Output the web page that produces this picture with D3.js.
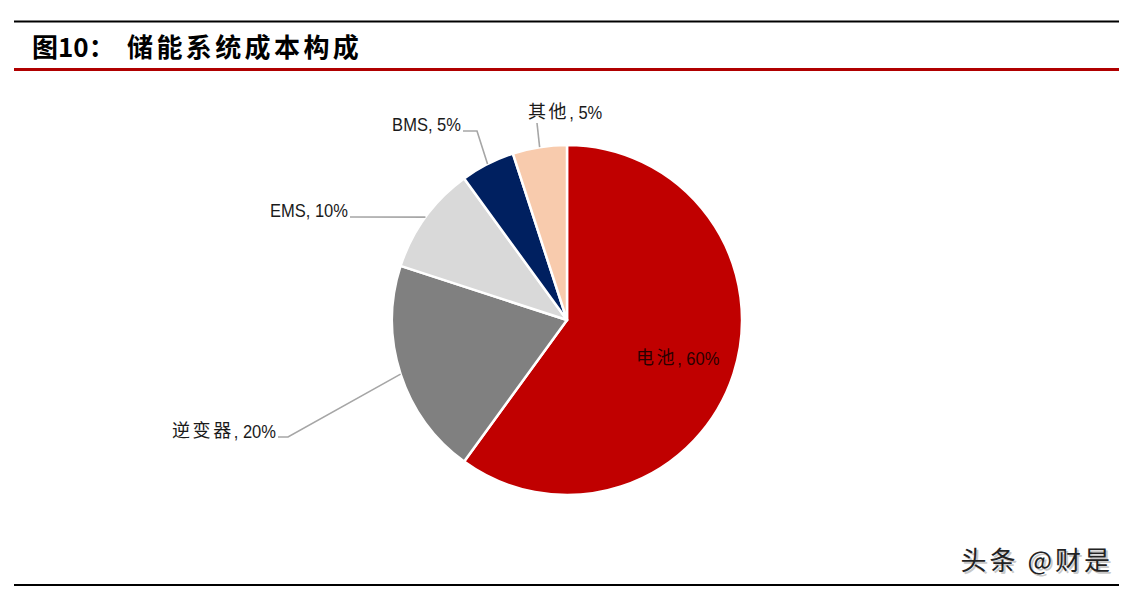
<!DOCTYPE html>
<html><head><meta charset="utf-8">
<script src="https://cdn.jsdelivr.net/npm/d3@7"></script>
<style>html,body{margin:0;padding:0;background:#fff;}</style>
</head><body>
<svg id="c" width="1131" height="593"></svg>
<script>
const categories = ["电池", "逆变器", "EMS", "BMS", "其他"];
const values = [60, 20, 10, 5, 5];
const colors = ["#C00000", "#808080", "#D9D9D9", "#002060", "#F8CBAD"];
const percentText = ["60%", "20%", "10%", "5%", "5%"];

const svg = d3.select("#c");

// frame lines
svg.append("line").attr("x1",14).attr("x2",1119).attr("y1",21.5).attr("y2",21.5).attr("stroke","#000").attr("stroke-width",2);
svg.append("line").attr("x1",14).attr("x2",1119).attr("y1",69.5).attr("y2",69.5).attr("stroke","#B00000").attr("stroke-width",3);
svg.append("line").attr("x1",14).attr("x2",1119).attr("y1",585).attr("y2",585).attr("stroke","#000").attr("stroke-width",2);

// title
const tf = "'Noto Sans CJK SC','Liberation Sans',sans-serif";
svg.append("text").attr("x",32).attr("y",57).attr("font-family",tf).attr("font-weight","bold")
  .attr("font-size",26).attr("fill","#000").text("图10：");
svg.append("text").attr("x",127).attr("y",57).attr("font-family",tf).attr("font-weight","bold")
  .attr("font-size",26).attr("letter-spacing","3.4px").attr("fill","#000").text("储能系统成本构成");

// pie
const cx = 567, cy = 320, r = 175;
const g = svg.append("g").attr("transform",`translate(${cx},${cy})`);
const data = categories.map((c,i)=>({cat:c, value:values[i], color:colors[i], pct:percentText[i]}));
const pie = d3.pie().value(d=>d.value).sort(null);
const arcs = pie(data);
const arc = d3.arc().innerRadius(0).outerRadius(r);
g.selectAll("path.s").data(arcs).join("path").attr("class","s")
  .attr("d",arc).attr("fill",d=>d.data.color).attr("stroke","#fff").attr("stroke-width",2.5).attr("stroke-linejoin","round");

const lf = "'Liberation Sans Narrow','Arial Narrow','Liberation Sans',sans-serif";
const cf = "'Noto Sans CJK SC',sans-serif";
const SX = 0.87, LFS = 19;
const isCJK = s => /[\u4e00-\u9fff]/.test(s);
function edge(d, rr){ const a=(d.startAngle+d.endAngle)/2; return [Math.sin(a)*rr, -Math.cos(a)*rr]; }
function label(tx, ty, anchor, cat, pct, fill){
  const lg = g.append("g");
  const first = lg.append("text").attr("x",0).attr("y",0).attr("dy","0.35em").attr("fill",fill).text(cat);
  if (isCJK(cat)) first.attr("font-family",cf).attr("font-size",18).attr("letter-spacing","2.6px");
  else first.attr("font-family",lf).attr("font-size",LFS).attr("transform",`scale(${SX},1)`);
  const w1 = first.node().getComputedTextLength() * (isCJK(cat)?1:SX);
  const second = lg.append("text").attr("transform",`translate(${w1},0) scale(${SX},1)`).attr("dy","0.35em")
    .attr("font-family",lf).attr("font-size",LFS).attr("fill",fill).text(", " + pct);
  const w = w1 + second.node().getComputedTextLength()*SX;
  const ox = anchor==="end" ? -w : anchor==="middle" ? -w/2 : 0;
  lg.attr("transform",`translate(${tx+ox},${ty})`);
}
// 电池 inside
{
  const d = arcs[0];
  const p = edge(d, r*0.665);
  label(p[0], p[1]+2, "middle", d.data.cat, d.data.pct, "#2a0000");
}
const lineColor = "#A6A6A6";
function leader(d, pts, tx, ty, anchor){
  const e = edge(d, r);
  g.append("path").attr("d", d3.line()([e, ...pts])).attr("fill","none").attr("stroke",lineColor).attr("stroke-width",1.6);
  label(tx, ty, anchor, d.data.cat, d.data.pct, "#1a1a1a");
}
leader(arcs[1], [[288-cx, 437-cy],[278-cx,437-cy]], 276-cx, 431-cy, "end");
leader(arcs[2], [[350-cx, 217-cy]], 348-cx, 210-cy, "end");
leader(arcs[3], [[477-cx,131-cy],[463-cx,131-cy]], 461-cx, 124-cy, "end");
leader(arcs[4], [[537-cx,123-cy]], 528-cx, 112-cy, "start");

// watermark
const wf = "'Noto Sans CJK SC',sans-serif";
svg.append("text").attr("x",1115).attr("y",572).attr("text-anchor","end").attr("font-family",wf)
  .attr("font-size",26).attr("letter-spacing","3px").attr("fill","#c8c8c8").text("头条 @财是");
svg.append("text").attr("x",1113).attr("y",570).attr("text-anchor","end").attr("font-family",wf)
  .attr("font-size",26).attr("letter-spacing","3px").attr("fill","#222").text("头条 @财是");
</script>
</body></html>
